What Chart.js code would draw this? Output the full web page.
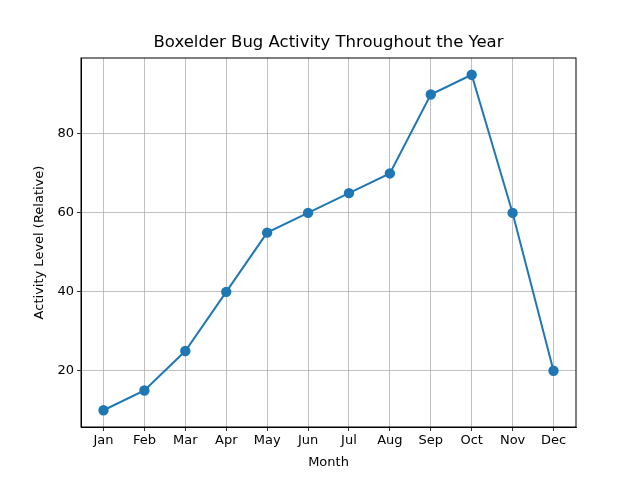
<!DOCTYPE html>
<html><head><script src="https://cdn.jsdelivr.net/npm/chart.js@4"></script>
<style>body{margin:0}#w{width:640px;height:480px}</style></head>
<body><div id="w"><canvas id="c"></canvas></div>
<script>
const months=["Jan","Feb","Mar","Apr","May","Jun","Jul","Aug","Sep","Oct","Nov","Dec"];
const activity=[10,15,25,40,55,60,65,70,90,95,60,20];
const yTicks=[20,40,60,80];
const chartTitle='Boxelder Bug Activity Throughout the Year';
const font={family:"DejaVu Sans",size:13};
const frame={id:'frame',afterDraw(c){const a=c.chartArea,x=c.ctx;x.save();
x.strokeStyle='#000';x.lineWidth=1;x.strokeRect(a.left,a.top,a.right-a.left,a.bottom-a.top);
x.fillStyle='#000';x.font='16.5px "DejaVu Sans"';x.textAlign='center';x.textBaseline='middle';
x.fillText(chartTitle,(a.left+a.right)/2,43);x.restore();}};
new Chart(document.getElementById('c'),{
type:'line',
data:{datasets:[{data:activity.map((v,i)=>({x:i,y:v})),borderColor:'#1f77b4',backgroundColor:'#1f77b4',borderWidth:2,pointRadius:4.2,pointHoverRadius:4.2,tension:0}]},
plugins:[frame],
options:{responsive:true,maintainAspectRatio:false,animation:false,
layout:{padding:{left:0,right:64,top:58,bottom:0}},
plugins:{legend:{display:false},tooltip:{enabled:false},title:{display:false}},
scales:{
x:{type:'linear',min:-0.55,max:11.55,
afterBuildTicks:s=>{s.ticks=months.map((m,i)=>({value:i}));},
afterFit:s=>{s.height=53;},
ticks:{callback:v=>months[v],color:'#000',font,padding:2,maxRotation:0,autoSkip:false},
grid:{color:'#b0b0b0',lineWidth:0.8,tickLength:4,tickColor:'#000'},
border:{color:'#000',width:1},
title:{display:true,text:'Month',color:'#000',font,padding:{top:2,bottom:10}}},
y:{min:5.75,max:99.25,
afterBuildTicks:s=>{s.ticks=yTicks.map(v=>({value:v}));},
afterFit:s=>{s.width=81;},
ticks:{color:'#000',font,padding:3},
grid:{color:'#b0b0b0',lineWidth:0.8,tickLength:4,tickColor:'#000'},
border:{color:'#000',width:1},
title:{display:true,text:'Activity Level (Relative)',color:'#000',font,padding:{top:32,bottom:4}}}
}}});
</script></body></html>
